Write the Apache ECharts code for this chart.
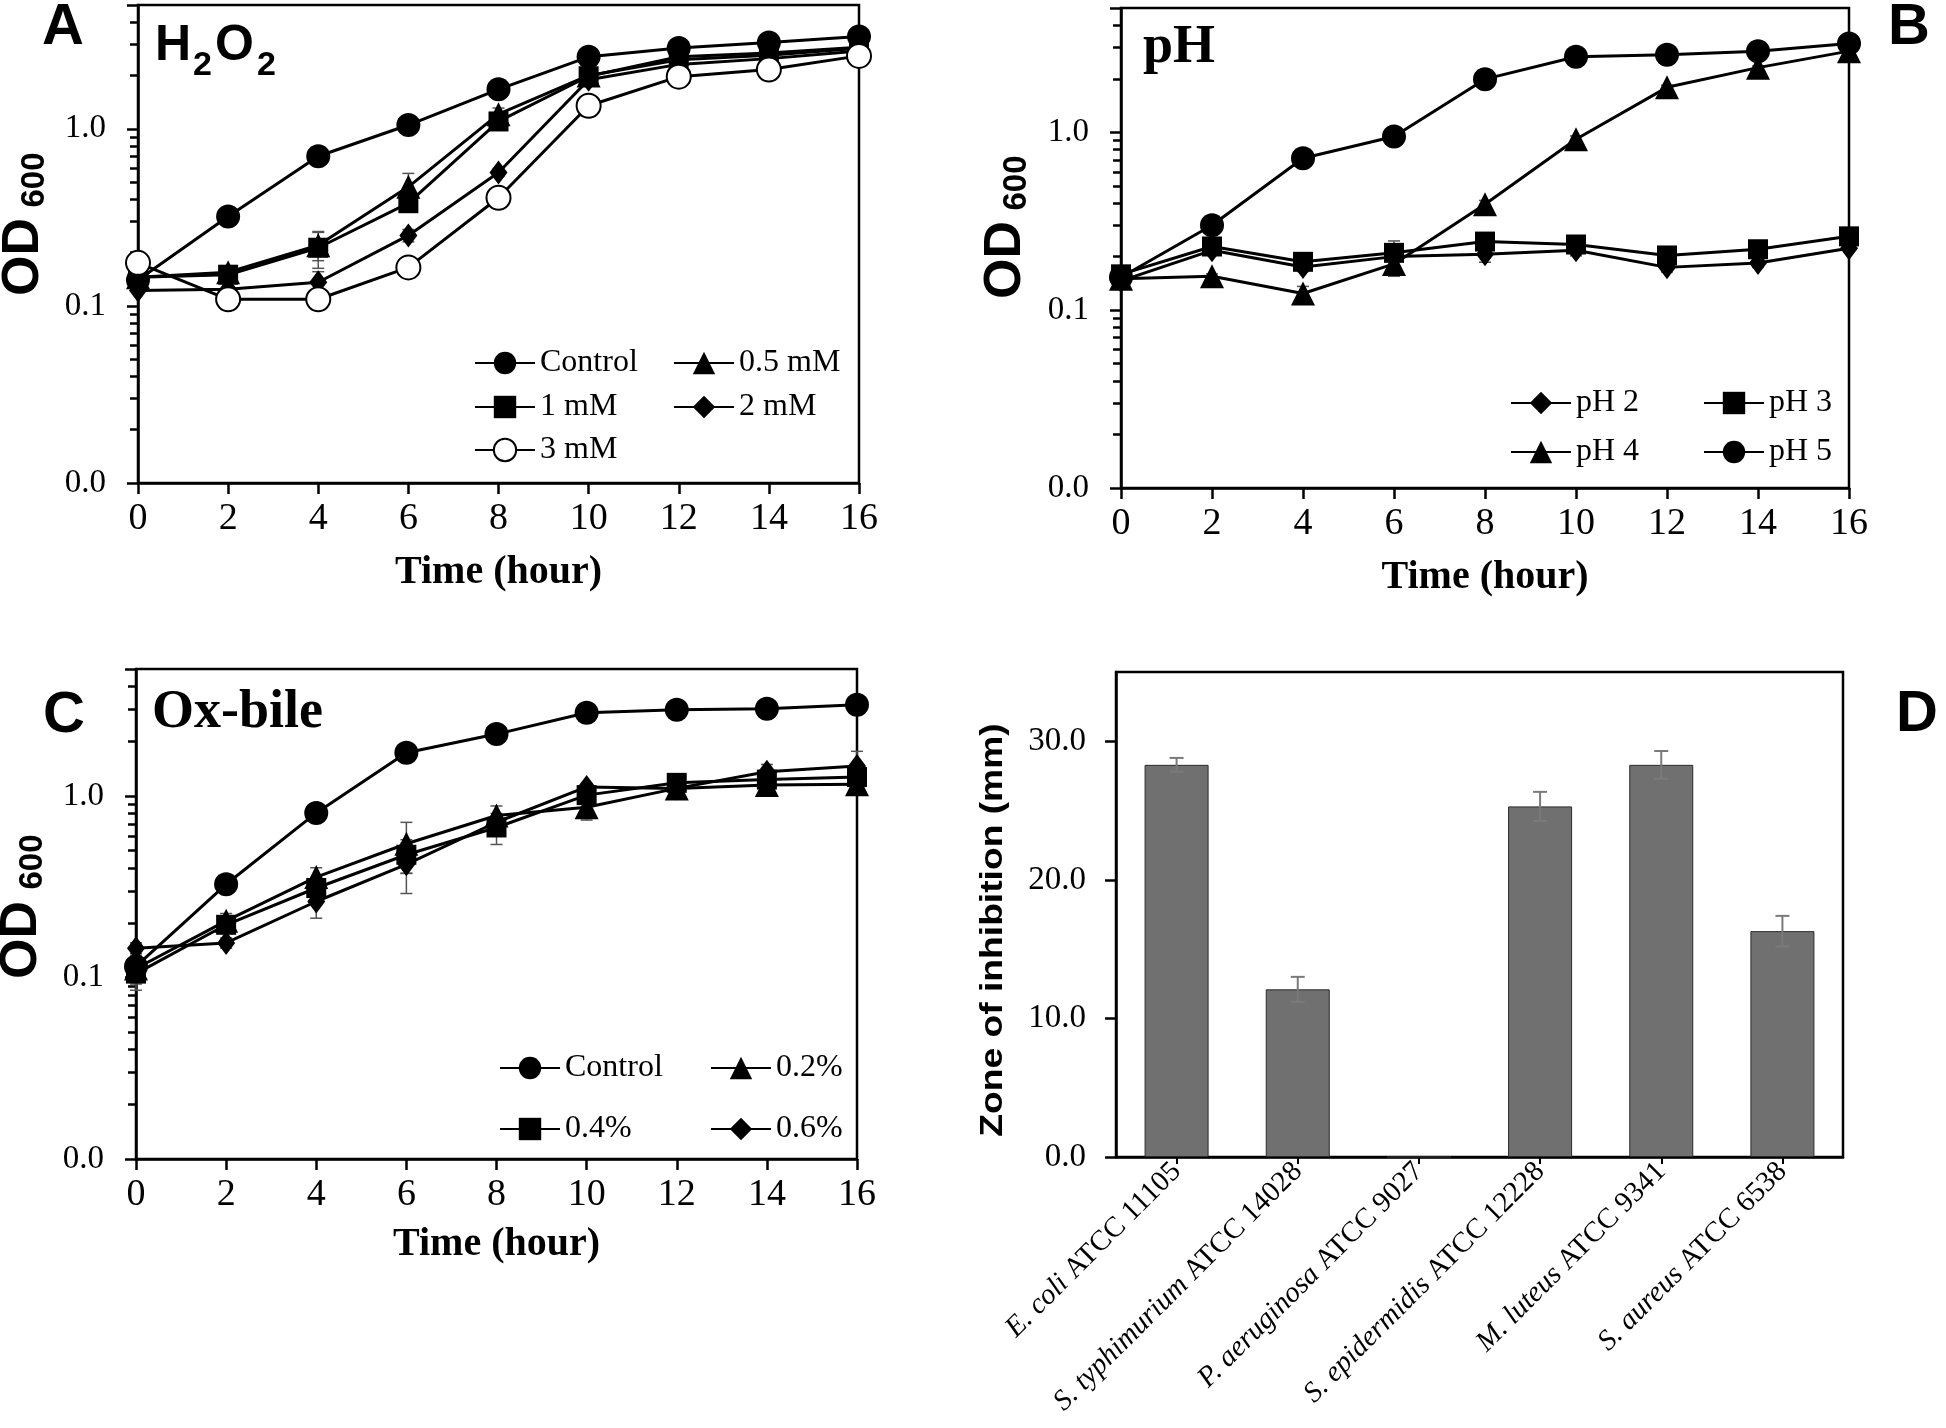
<!DOCTYPE html>
<html><head><meta charset="utf-8">
<script src="https://cdn.jsdelivr.net/npm/echarts@6/dist/echarts.min.js"></script>
<style>html,body{margin:0;padding:0;background:#fff}#c{width:1946px;height:1428px}</style>
</head><body><div id="c"></div>
<script>
// ---------- DATA ----------
const hours = [0, 2, 4, 6, 8, 10, 12, 14, 16];

// log axis tick labels
const yTickValues = [0.01, 0.1, 1];
const yTickLabels = ['0.0', '0.1', '1.0'];
const minorTickValues = [0.02,0.03,0.04,0.05,0.06,0.07,0.08,0.09,0.2,0.3,0.4,0.5,0.6,0.7,0.8,0.9,2,3,4];

// Panel A - H2O2
const h2o2Names = ['Control', '0.5 mM', '1 mM', '2 mM', '3 mM'];
const h2o2Control = [0.14, 0.32, 0.70, 1.05, 1.67, 2.55, 2.86, 3.07, 3.32];
const h2o2Mm05    = [0.145, 0.155, 0.22, 0.47, 1.21, 2.0, 2.45, 2.6, 2.85];
const h2o2Mm1     = [0.145, 0.15, 0.213, 0.38, 1.1, 1.98, 2.55, 2.68, 2.89];
const h2o2Mm2     = [0.122, 0.124, 0.136, 0.25, 0.567, 1.89, 2.31, 2.49, 2.75];
const h2o2Mm3     = [0.175, 0.109, 0.109, 0.165, 0.408, 1.35, 1.97, 2.16, 2.58];
const h2o2ControlErr = [0, 0.01, 0.03, 0.04, 0.05, 0.06, 0.05, 0.05, 0.06];
const h2o2Mm05Err    = [0, 0.01, 0.04, 0.09, 0.1, 0.1, 0.08, 0.08, 0.1];
const h2o2Mm1Err     = [0, 0.01, 0.05, 0.03, 0.05, 0.1, 0.08, 0.08, 0.1];
const h2o2Mm2Err     = [0, 0.01, 0.02, 0.02, 0.03, 0.08, 0.08, 0.08, 0.08];
const h2o2Mm3Err     = [0, 0.005, 0.005, 0.01, 0.03, 0.08, 0.08, 0.08, 0.08];

// Panel B - pH
const phNames = ['pH 2', 'pH 3', 'pH 4', 'pH 5'];
const ph2 = [0.146, 0.217, 0.175, 0.2, 0.206, 0.217, 0.174, 0.184, 0.223];
const ph3 = [0.159, 0.228, 0.187, 0.21, 0.243, 0.234, 0.203, 0.22, 0.26];
const ph4 = [0.15, 0.155, 0.124, 0.182, 0.394, 0.914, 1.79, 2.31, 2.86];
const ph5 = [0.153, 0.30, 0.714, 0.947, 1.99, 2.66, 2.73, 2.86, 3.16];
const ph2Err = [0, 0.01, 0.01, 0.045, 0.02, 0.015, 0.01, 0.01, 0.01];
const ph3Err = [0, 0.01, 0.01, 0.02, 0.01, 0.01, 0.01, 0.01, 0.01];
const ph4Err = [0, 0.005, 0.012, 0.01, 0.02, 0.04, 0.05, 0.05, 0.05];
const ph5Err = [0, 0.01, 0.02, 0.03, 0.05, 0.05, 0.05, 0.05, 0.05];

// Panel C - Ox-bile
const bileNames = ['Control', '0.2%', '0.4%', '0.6%'];
const bileControl = [0.115, 0.326, 0.806, 1.73, 2.19, 2.87, 2.98, 3.02, 3.18];
const bile02 = [0.112, 0.205, 0.357, 0.545, 0.78, 0.866, 1.1, 1.15, 1.16];
const bile04 = [0.105, 0.195, 0.311, 0.474, 0.67, 1.01, 1.18, 1.23, 1.27];
const bile06 = [0.145, 0.155, 0.262, 0.42, 0.716, 1.12, 1.1, 1.36, 1.46];
const bileControlErr = [0.01, 0.02, 0.04, 0.08, 0.2, 0.1, 0.08, 0.08, 0.1];
const bile02Err = [0.02, 0.02, 0.045, 0.17, 0.1, 0.13, 0.05, 0.05, 0.08];
const bile04Err = [0.02, 0.01, 0.03, 0.1, 0.13, 0.05, 0.05, 0.05, 0.06];
const bile06Err = [0.01, 0.01, 0.05, 0.13, 0.05, 0.05, 0.05, 0.13, 0.3];

// Panel D - zone of inhibition
const bacteriaSpecies = ['E. coli', 'S. typhimurium', 'P. aeruginosa', 'S. epidermidis', 'M. luteus', 'S. aureus'];
const bacteriaStrains = ['ATCC 11105', 'ATCC 14028', 'ATCC 9027', 'ATCC 12228', 'ATCC 9341', 'ATCC 6538'];
const zoneValues = [28.3, 12.1, 0, 25.3, 28.3, 16.3];
const zoneErrors = [0.5, 0.9, 0, 1.05, 1.0, 1.1];
const zoneTicks = [0, 10, 20, 30];

// ---------- CHART ----------
const SERIF = '"Liberation Serif", "Times New Roman", serif';
const SANS = '"Liberation Sans", Arial, sans-serif';
const chart = echarts.init(document.getElementById('c'), null, {renderer: 'canvas'});

const grids = [
  {left: 138, top: 5, width: 721, height: 478},
  {left: 1121, top: 8, width: 728, height: 480},
  {left: 136, top: 669, width: 721, height: 490},
  {left: 1116, top: 672, width: 727, height: 485}
].map(g => Object.assign({show: true, borderColor: '#000', borderWidth: 2.5, containLabel: false, outerBoundsMode: 'none', backgroundColor: 'transparent'}, g));

function timeAxis(gi, gap) {
  return {
    type: 'value', gridIndex: gi, min: 0, max: 16, interval: 2,
    name: 'Time (hour)', nameLocation: 'middle', nameGap: gap,
    nameTextStyle: {fontFamily: SERIF, fontWeight: 'bold', fontSize: 40, color: '#000'},
    axisLine: {show: true, onZero: false, lineStyle: {color: '#000', width: 2.5}},
    axisTick: {show: true, inside: false, length: 11, lineStyle: {color: '#000', width: 2.5}},
    axisLabel: {show: true, margin: 17, fontFamily: SERIF, fontSize: 38, color: '#000'},
    splitLine: {show: false}
  };
}
function odAxis(gi) {
  return {
    type: 'log', logBase: 10, gridIndex: gi, min: 0.01, max: 5, position: 'left',
    axisLine: {show: true, onZero: false, lineStyle: {color: '#000', width: 2.5}},
    axisTick: {show: true, inside: false, length: 11, lineStyle: {color: '#000', width: 2.5}},
    axisLabel: {show: true, margin: 32, fontFamily: SERIF, fontSize: 33, color: '#000',
      formatter: v => {
        for (let i = 0; i < yTickValues.length; i++) {
          if (Math.abs(Math.log10(v) - Math.log10(yTickValues[i])) < 1e-6) return yTickLabels[i];
        }
        return '';
      }},
    splitLine: {show: false}, minorTick: {show: false}
  };
}
// overlay axis carrying only the minor (2..9) log ticks
function minorAxis(gi) {
  return {
    type: 'log', logBase: 10, gridIndex: gi, min: 0.01, max: 5, position: 'left', offset: 0,
    axisLine: {show: false},
    axisTick: {show: true, inside: false, length: 8, customValues: minorTickValues, lineStyle: {color: '#000', width: 2.5}},
    axisLabel: {show: false},
    splitLine: {show: false}, minorTick: {show: false}
  };
}

const markers = {
  circle: {symbol: 'circle', symbolSize: 24},
  open: {symbol: 'circle', symbolSize: 24, open: true},
  triangle: {symbol: 'triangle', symbolSize: 24},
  square: {symbol: 'rect', symbolSize: 20},
  diamond: {symbol: 'diamond', symbolSize: [18, 24]}
};

function lineSeries(gi, name, vals, mk, z) {
  const m = markers[mk];
  return {
    type: 'line', name: name, xAxisIndex: gi, yAxisIndex: gi,
    data: hours.map((h, i) => [h, vals[i]]),
    symbol: m.symbol, symbolSize: m.symbolSize, showSymbol: true, showAllSymbol: true,
    itemStyle: m.open ? {color: '#fff', borderColor: '#000', borderWidth: 2} : {color: '#000', borderColor: '#000', borderWidth: 0},
    lineStyle: {color: '#000', width: 3},
    emphasis: {disabled: true}, z: z || 3, animation: false
  };
}

function errSeries(gi, vals, errs) {
  return {
    type: 'custom', xAxisIndex: gi, yAxisIndex: gi, z: 2, silent: true, clip: false,
    encode: {x: 0, y: 1},
    data: hours.map((h, i) => [h, vals[i], errs[i]]),
    renderItem: (params, api) => {
      const x = api.value(0), v = api.value(1), e = api.value(2);
      if (!e) return null;
      const t = api.coord([x, v + e]), b = api.coord([x, v - e]);
      const w = 6, st = {stroke: '#555', lineWidth: 1.5};
      return {type: 'group', children: [
        {type: 'line', shape: {x1: t[0], y1: t[1], x2: b[0], y2: b[1]}, style: st},
        {type: 'line', shape: {x1: t[0] - w, y1: t[1], x2: t[0] + w, y2: t[1]}, style: st},
        {type: 'line', shape: {x1: b[0] - w, y1: b[1], x2: b[0] + w, y2: b[1]}, style: st}
      ]};
    }
  };
}

const series = [];
// A
[[h2o2Control, h2o2ControlErr], [h2o2Mm05, h2o2Mm05Err], [h2o2Mm1, h2o2Mm1Err], [h2o2Mm2, h2o2Mm2Err], [h2o2Mm3, h2o2Mm3Err]]
  .forEach(p => series.push(errSeries(0, p[0], p[1])));
series.push(lineSeries(0, h2o2Names[0], h2o2Control, 'circle'));
series.push(lineSeries(0, h2o2Names[1], h2o2Mm05, 'triangle'));
series.push(lineSeries(0, h2o2Names[2], h2o2Mm1, 'square'));
series.push(lineSeries(0, h2o2Names[3], h2o2Mm2, 'diamond'));
series.push(lineSeries(0, h2o2Names[4], h2o2Mm3, 'open', 4));
// B
[[ph2, ph2Err], [ph3, ph3Err], [ph4, ph4Err], [ph5, ph5Err]].forEach(p => series.push(errSeries(1, p[0], p[1])));
series.push(lineSeries(1, phNames[0], ph2, 'diamond'));
series.push(lineSeries(1, phNames[1], ph3, 'square'));
series.push(lineSeries(1, phNames[2], ph4, 'triangle'));
series.push(lineSeries(1, phNames[3], ph5, 'circle'));
// C
[[bileControl, bileControlErr], [bile02, bile02Err], [bile04, bile04Err], [bile06, bile06Err]].forEach(p => series.push(errSeries(2, p[0], p[1])));
series.push(lineSeries(2, bileNames[0], bileControl, 'circle'));
series.push(lineSeries(2, bileNames[1], bile02, 'triangle'));
series.push(lineSeries(2, bileNames[2], bile04, 'square'));
series.push(lineSeries(2, bileNames[3], bile06, 'diamond'));
// D
const zoneCategories = bacteriaSpecies.map((s, i) => s + ' ' + bacteriaStrains[i]);
series.push({
  type: 'bar', xAxisIndex: 3, yAxisIndex: 3, data: zoneValues, barWidth: 64,
  itemStyle: {color: '#707070', borderColor: '#2a2a2a', borderWidth: 1},
  emphasis: {disabled: true}, z: 2, animation: false
});
series.push({
  type: 'custom', xAxisIndex: 3, yAxisIndex: 3, z: 3, silent: true, clip: false,
  encode: {x: 0, y: 1},
  data: zoneValues.map((v, i) => [i, v, zoneErrors[i]]),
  renderItem: (params, api) => {
    const x = api.value(0), v = api.value(1), e = api.value(2);
    if (!e) return null;
    const t = api.coord([x, v + e]), b = api.coord([x, v - e]);
    const w = 7, st = {stroke: '#7a7a7a', lineWidth: 2};
    return {type: 'group', children: [
      {type: 'line', shape: {x1: t[0], y1: t[1], x2: b[0], y2: b[1]}, style: st},
      {type: 'line', shape: {x1: t[0] - w, y1: t[1], x2: t[0] + w, y2: t[1]}, style: st},
      {type: 'line', shape: {x1: b[0] - w, y1: b[1], x2: b[0] + w, y2: b[1]}, style: st}
    ]};
  }
});

const xAxes = [timeAxis(0, 70), timeAxis(1, 70), timeAxis(2, 66), {
  type: 'category', gridIndex: 3, data: zoneCategories, boundaryGap: true,
  axisLine: {show: true, onZero: false, lineStyle: {color: '#000', width: 2.5}},
  axisTick: {show: true, alignWithLabel: true, length: 7, lineStyle: {color: '#000', width: 2}},
  axisLabel: {show: true, interval: 0, rotate: 45, margin: 10, color: '#000',
    formatter: (val, idx) => '{i|' + bacteriaSpecies[idx] + '}{n| ' + bacteriaStrains[idx] + '}',
    rich: {
      i: {fontFamily: SERIF, fontStyle: 'italic', fontSize: 29, color: '#000'},
      n: {fontFamily: SERIF, fontSize: 29, color: '#000'}
    }},
  splitLine: {show: false}
}];
const yAxes = [odAxis(0), odAxis(1), odAxis(2), {
  type: 'value', gridIndex: 3, min: 0, max: 35, interval: 10,
  axisLine: {show: true, onZero: false, lineStyle: {color: '#000', width: 2.5}},
  axisTick: {show: true, length: 11, customValues: zoneTicks, lineStyle: {color: '#000', width: 2.5}},
  axisLabel: {show: true, margin: 30, fontFamily: SERIF, fontSize: 33, color: '#000',
    customValues: zoneTicks,
    formatter: v => zoneTicks.indexOf(v) >= 0 ? v.toFixed(1) : ''},
  splitLine: {show: false}
}, minorAxis(0), minorAxis(1), minorAxis(2)];

const legendBase = {
  orient: 'horizontal', itemWidth: 60, itemHeight: 28, itemGap: 15, padding: 0,
  selectedMode: false, inactiveColor: '#000'
};
function lg(names, left, cy, w) {
  return Object.assign({}, legendBase, {
    data: names, left: left, top: cy - 14,
    textStyle: {fontFamily: SERIF, fontSize: 32, color: '#000', width: w, lineHeight: 28, overflow: 'none'}
  });
}
const legends = [
  lg([h2o2Names[0], h2o2Names[1]], 474, 361, 118),
  lg([h2o2Names[2], h2o2Names[3]], 474, 405, 118),
  lg([h2o2Names[4]], 474, 448, 118),
  lg([phNames[0], phNames[1]], 1510, 401, 112),
  lg([phNames[2], phNames[3]], 1510, 450, 112),
  lg([bileNames[0], bileNames[1]], 499, 1066, 130),
  lg([bileNames[2], bileNames[3]], 499, 1127, 130)
];

function txt(x, y, text, font, opts) {
  opts = opts || {};
  const el = {type: 'text', x: x, y: y, silent: true, z: 100,
    style: {text: text, font: font, fill: '#000', textAlign: opts.align || 'center',
      textVerticalAlign: 'middle', verticalAlign: 'middle'}};
  if (opts.rot) el.rotation = opts.rot;
  if (opts.sx) el.scaleX = opts.sx;
  return el;
}
const R = Math.PI / 2;
const graphics = [
  txt(63, 28, 'A', 'bold 58px ' + SANS),
  txt(1909, 28, 'B', 'bold 58px ' + SANS),
  txt(64, 716, 'C', 'bold 58px ' + SANS),
  txt(1917, 715, 'D', 'bold 58px ' + SANS),
  // OD600 labels
  txt(24, 257, 'OD', 'bold 52px ' + SANS, {rot: R}),
  txt(35, 180, '600', 'bold 33px ' + SANS, {rot: R}),
  txt(1006, 260, 'OD', 'bold 52px ' + SANS, {rot: R}),
  txt(1017, 183, '600', 'bold 33px ' + SANS, {rot: R}),
  txt(22, 940, 'OD', 'bold 52px ' + SANS, {rot: R}),
  txt(33, 862, '600', 'bold 33px ' + SANS, {rot: R}),
  // D y axis title
  txt(993, 930, 'Zone of inhibition (mm)', 'bold 31px ' + SANS, {rot: R, sx: 1.2}),
  // panel titles
  txt(155, 46, 'H', 'bold 50px ' + SANS, {align: 'left'}),
  txt(193, 66, '2', 'bold 34px ' + SANS, {align: 'left'}),
  txt(215, 46, 'O', 'bold 50px ' + SANS, {align: 'left'}),
  txt(257, 66, '2', 'bold 34px ' + SANS, {align: 'left'}),
  txt(1143, 48, 'pH', 'bold 54px ' + SERIF, {align: 'left'}),
  txt(152, 713, 'Ox-bile', 'bold 54px ' + SERIF, {align: 'left'})
];

chart.setOption({
  animation: false,
  backgroundColor: '#fff',
  textStyle: {fontFamily: SERIF},
  grid: grids,
  xAxis: xAxes,
  yAxis: yAxes,
  legend: legends,
  series: series,
  graphic: graphics
});
</script></body></html>
